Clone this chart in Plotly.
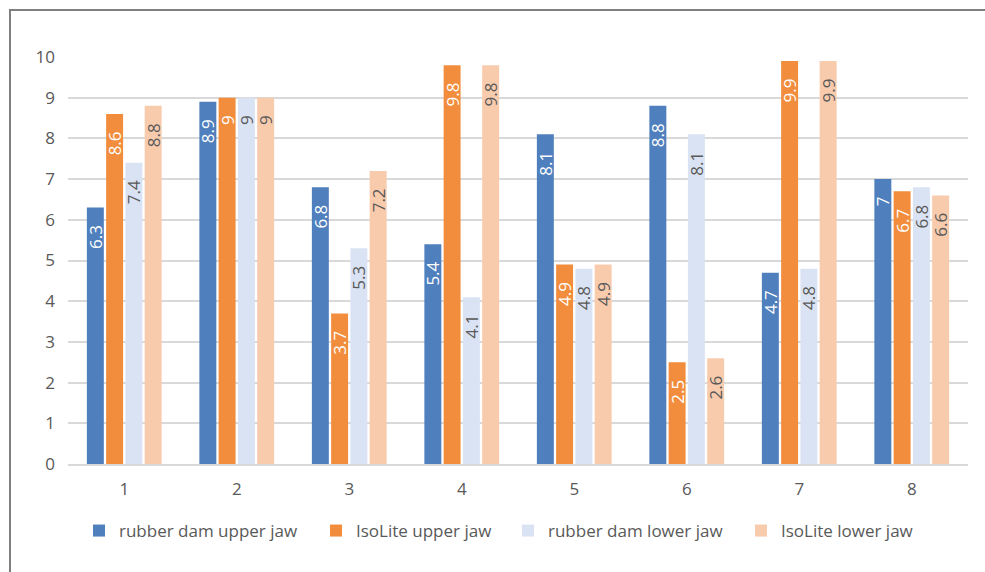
import plotly.graph_objects as go

categories = ["1", "2", "3", "4", "5", "6", "7", "8"]
rubber_dam_upper = [6.3, 8.9, 6.8, 5.4, 8.1, 8.8, 4.7, 7]
isolite_upper = [8.6, 9, 3.7, 9.8, 4.9, 2.5, 9.9, 6.7]
rubber_dam_lower = [7.4, 9, 5.3, 4.1, 4.8, 8.1, 4.8, 6.8]
isolite_lower = [8.8, 9, 7.2, 9.8, 4.9, 2.6, 9.9, 6.6]

series = [
    ("rubber dam upper jaw", rubber_dam_upper, "#4F7FBD", "#FFFFFF"),
    ("IsoLite upper jaw", isolite_upper, "#F18D3C", "#FFFFFF"),
    ("rubber dam lower jaw", rubber_dam_lower, "#DAE3F3", "#595959"),
    ("IsoLite lower jaw", isolite_lower, "#F8CBAD", "#595959"),
]

FONT = "Open Sans, Noto Sans, sans-serif"
# trailing padding so the value label sits a little below the bar top
LABEL_PAD = "\u2009" * 2 + "\u00a0" * 2

# Plot area: left 68, right 968, top 57, bottom 464 (pixels)
L, R, T, B = 68, 17, 57, 108
W, H = 985, 572
pw, ph = W - L - R, H - T - B


def px_x(p):
    return (p - L) / pw


def px_y(p):
    return (H - B - p) / ph


# left pixel of each legend entry
legend_left = [79, 316, 508, 741]
legend_ids = ["legend", "legend2", "legend3", "legend4"]

fig = go.Figure()
for (name, vals, color, tcolor), lid in zip(series, legend_ids):
    fig.add_trace(go.Bar(
        name=name,
        x=categories,
        y=vals,
        legend=lid,
        marker=dict(color=color, line=dict(width=0)),
        text=[f"{v:g}" + LABEL_PAD for v in vals],
        textposition="inside",
        insidetextanchor="end",
        textangle=-90,
        constraintext="none",
        insidetextfont=dict(family=FONT, size=17, color=tcolor),
        hoverinfo="skip",
    ))

fig.add_shape(
    type="rect", xref="paper", yref="paper",
    x0=px_x(10), x1=px_x(W + 20), y0=px_y(H + 20), y1=px_y(10),
    line=dict(color="#7F7F7F", width=2), fillcolor="rgba(0,0,0,0)",
    layer="above",
)

legend_style = dict(
    orientation="h",
    xanchor="left",
    y=px_y(531), yanchor="middle",
    font=dict(family=FONT, size=17, color="#595959"),
    bgcolor="rgba(0,0,0,0)",
)

layout_legends = {}
for lid, left in zip(legend_ids, legend_left):
    layout_legends[lid] = dict(legend_style, x=px_x(left))

fig.update_layout(
    width=W, height=H,
    margin=dict(l=L, r=R, t=T, b=B, pad=0),
    paper_bgcolor="white",
    plot_bgcolor="white",
    barmode="group",
    bargap=0.315,
    bargroupgap=0.12,
    font=dict(family=FONT, color="#595959", size=17),
    showlegend=True,
    xaxis=dict(
        showgrid=False,
        showline=True, linecolor="#D9D9D9", linewidth=1.5,
        ticks="", ticklabelstandoff=9,
        tickfont=dict(size=17, color="#595959"),
    ),
    yaxis=dict(
        range=[0, 10],
        dtick=1,
        showgrid=True, gridcolor="#D9D9D9", gridwidth=1.5,
        zeroline=False,
        showline=False,
        ticks="", ticklabelstandoff=12,
        tickfont=dict(size=17, color="#595959"),
    ),
    **layout_legends,
)

fig.write_html("out.html")
